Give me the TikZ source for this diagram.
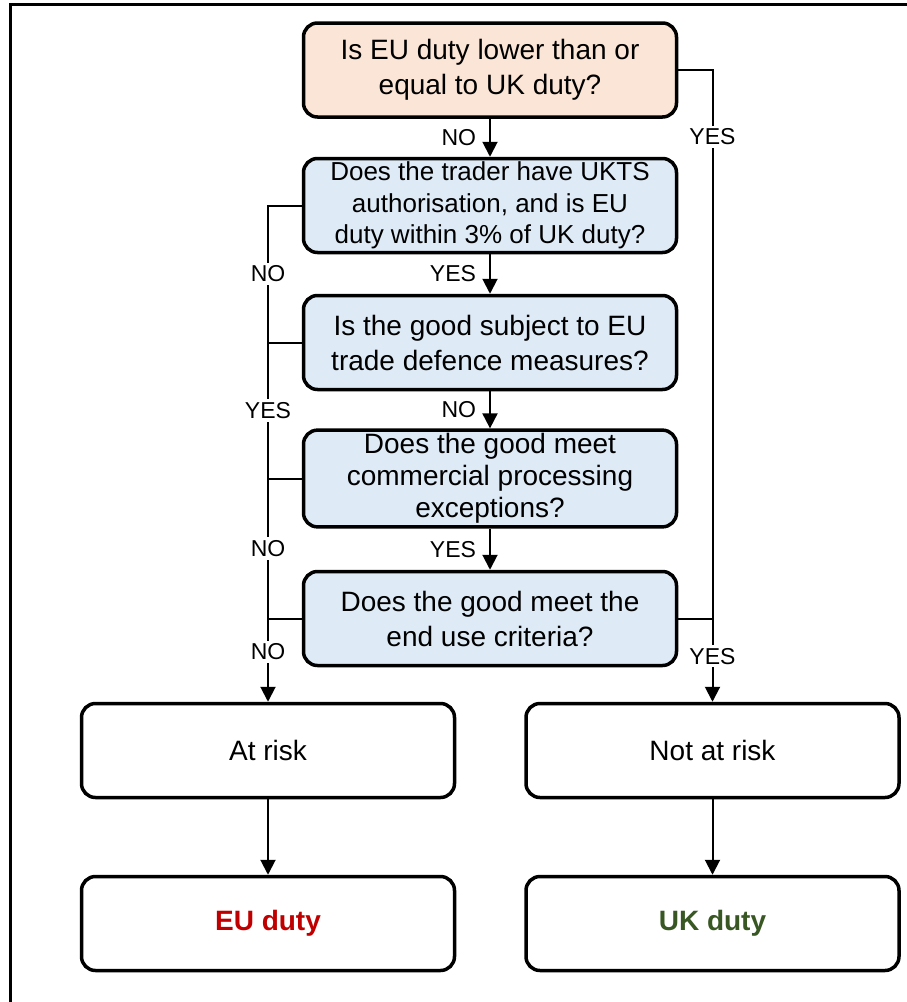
\documentclass[tikz,border=0pt]{standalone}
\usepackage{fontspec}
\setmainfont{Liberation Sans}
\usetikzlibrary{arrows.meta}
\definecolor{askfill}{HTML}{FBE5D6}
\definecolor{checkfill}{HTML}{DEEBF7}
\definecolor{eured}{HTML}{C00000}
\definecolor{ukgreen}{HTML}{385723}

\begin{document}
\begin{tikzpicture}[x=1pt, y=-1pt,
  qbox/.style={draw, line width=3.5pt, rounded corners=14pt, minimum width=373pt, minimum height=94pt, align=center, font=\fontsize{28}{35}\selectfont},
  endbox/.style={qbox, fill=white},
  conn/.style={line width=2pt},
  arr/.style={-{Triangle[length=15pt, width=15pt]}},
  lbl/.style={fill=white, inner sep=3pt, font=\fontsize{23}{27}\selectfont}]
\useasboundingbox (0,0) rectangle (907,1002);
\draw [line width=3.5pt] (10.5,1002) -- (10.5,4.7) -- (907,4.7);
\node [qbox, fill=askfill] (eulow) at (490,70) {Is EU duty lower than or\\equal to UK duty?};
\node [qbox, fill=checkfill, font=\fontsize{26}{31.5}\selectfont] (ukts) at (490,205.5) {Does the trader have UKTS\\authorisation, and is EU\\duty within 3\% of UK duty?};
\node [qbox, fill=checkfill] (tdm) at (490,342.5) {Is the good subject to EU\\trade defence measures?};
\node [qbox, fill=checkfill, font=\fontsize{28}{32}\selectfont] (cpe) at (490,478.5) {Does the good meet\\commercial processing\\exceptions?};
\node [qbox, fill=checkfill] (enduse) at (490,618.5) {Does the good meet the\\end use criteria?};
\node [endbox] (atrisk) at (268,750.5) {At risk};
\node [endbox] (notrisk) at (712.5,750.5) {Not at risk};
\node [endbox, font=\fontsize{28}{35}\selectfont\bfseries, text=eured] (euduty) at (268,923.5) {EU duty};
\node [endbox, font=\fontsize{28}{35}\selectfont\bfseries, text=ukgreen] (ukduty) at (712.5,923.5) {UK duty};
\draw [conn, arr] (eulow) -- node [lbl, left=10pt] {NO} (ukts);
\draw [conn, arr] (ukts) -- node [lbl, left=10pt] {YES} (tdm);
\draw [conn, arr] (tdm) -- node [lbl, left=10pt] {NO} (cpe);
\draw [conn, arr] (cpe) -- node [lbl, left=10pt] {YES} (enduse);
\draw [conn] (ukts.west) -| node [lbl, pos=0.75] {NO} (tdm.west -| atrisk.north);
\draw [conn] (tdm.west) -| node [lbl, pos=0.75] {YES} (cpe.west -| atrisk.north);
\draw [conn] (cpe.west) -| node [lbl, pos=0.75] {NO} (enduse.west -| atrisk.north);
\draw [conn, arr] (enduse.west) -| node [lbl, pos=0.7] {NO} (atrisk.north);
\draw [conn, arr] (eulow.east) -| node [lbl, pos=0.553] {YES} node [lbl, pos=0.964] {YES} (notrisk.north);
\draw [conn] (enduse.east) -- (enduse.east -| notrisk.north);
\draw [conn, arr] (atrisk) -- (euduty);
\draw [conn, arr] (notrisk) -- (ukduty);
\end{tikzpicture}
\end{document}
